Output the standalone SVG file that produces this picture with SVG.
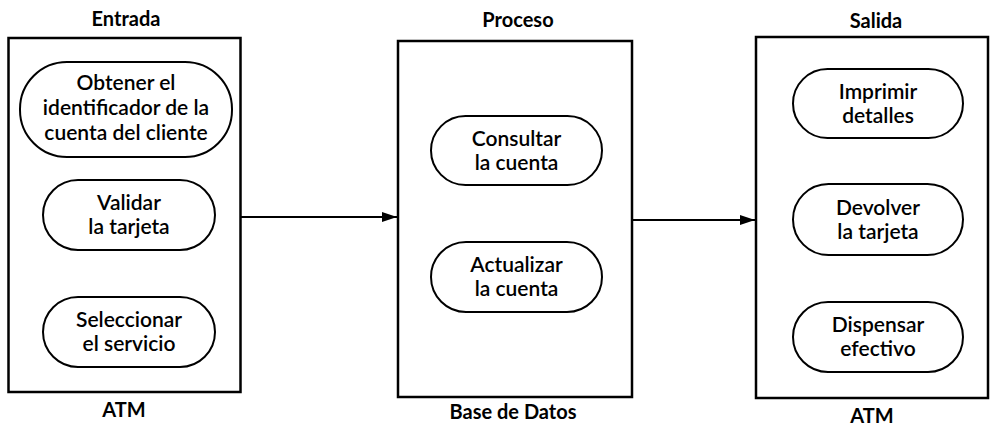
<svg xmlns="http://www.w3.org/2000/svg" width="991" height="430" viewBox="0 0 991 430">
<defs>
<style>
.box{fill:#fff;stroke:#000;stroke-width:2.5}
.pill{fill:#fff;stroke:#000;stroke-width:2}
.t{font-family:Lato,"Open Sans",sans-serif;font-size:21px;font-weight:600;fill:#000;text-anchor:middle}
.lbl{font-family:Lato,"Open Sans",sans-serif;font-size:20px;font-weight:700;fill:#000;text-anchor:middle}
.conn{stroke:#000;stroke-width:2;fill:none}
</style>
<marker id="ah" markerWidth="16" markerHeight="12" refX="15" refY="5" orient="auto" markerUnits="userSpaceOnUse">
<path d="M0,0 L15,5 L0,10 Z" fill="#000"/>
</marker>
</defs>
<rect width="991" height="430" fill="#fff"/>
<g id="entrada">
<rect class="box" x="8.5" y="38" width="232" height="354"/>
<text class="lbl" x="126" y="26">Entrada</text>
<text class="lbl" x="124" y="417">ATM</text>
</g>
<g id="obtener">
<rect class="pill" x="20" y="62" width="212" height="95" rx="47" ry="47"/>
<text class="t" x="126" y="90">Obtener el</text>
<text class="t" x="126" y="115">identificador de la</text>
<text class="t" x="126" y="140">cuenta del cliente</text>
</g>
<g id="validar">
<rect class="pill" x="43" y="180" width="172" height="70" rx="35" ry="35"/>
<text class="t" x="129" y="210">Validar</text>
<text class="t" x="129" y="234">la tarjeta</text>
</g>
<g id="seleccionar">
<rect class="pill" x="43" y="297" width="172" height="70" rx="35" ry="35"/>
<text class="t" x="129" y="327">Seleccionar</text>
<text class="t" x="129" y="351">el servicio</text>
</g>
<g id="proceso">
<rect class="box" x="398" y="41" width="234" height="356"/>
<text class="lbl" x="518" y="27">Proceso</text>
<text class="lbl" x="513" y="419">Base de Datos</text>
</g>
<g id="consultar">
<rect class="pill" x="431" y="116" width="171" height="69" rx="34.5" ry="34.5"/>
<text class="t" x="516.5" y="146">Consultar</text>
<text class="t" x="516.5" y="170">la cuenta</text>
</g>
<g id="actualizar">
<rect class="pill" x="431" y="242" width="171" height="70" rx="35" ry="35"/>
<text class="t" x="516.5" y="272">Actualizar</text>
<text class="t" x="516.5" y="296">la cuenta</text>
</g>
<g id="salida">
<rect class="box" x="756" y="37" width="232" height="361"/>
<text class="lbl" x="876" y="28">Salida</text>
<text class="lbl" x="872" y="423">ATM</text>
</g>
<g id="imprimir">
<rect class="pill" x="793" y="69" width="170" height="69" rx="34.5" ry="34.5"/>
<text class="t" x="878" y="99">Imprimir</text>
<text class="t" x="878" y="123">detalles</text>
</g>
<g id="devolver">
<rect class="pill" x="793" y="184" width="170" height="71" rx="35.5" ry="35.5"/>
<text class="t" x="878" y="215">Devolver</text>
<text class="t" x="878" y="239">la tarjeta</text>
</g>
<g id="dispensar">
<rect class="pill" x="793" y="302" width="170" height="70" rx="35" ry="35"/>
<text class="t" x="878" y="332">Dispensar</text>
<text class="t" x="878" y="356">efectivo</text>
</g>
<g id="connectors">
<line class="conn" x1="241" y1="217" x2="397" y2="217" marker-end="url(#ah)"/>
<line class="conn" x1="632" y1="220" x2="755" y2="220" marker-end="url(#ah)"/>
</g>
</svg>
